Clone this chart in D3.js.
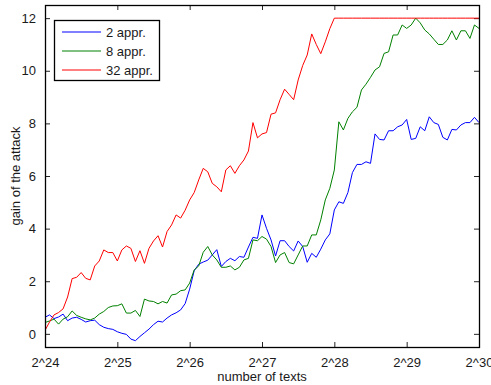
<!DOCTYPE html>
<html>
<head>
<meta charset="utf-8">
<script src="https://cdn.jsdelivr.net/npm/d3@7"></script>
<style>
  html, body { margin: 0; padding: 0; background: #fff; }
  svg { display: block; font-family: "Liberation Sans", Arial, Helvetica, sans-serif; }
</style>
</head>
<body>
<svg id="chart" width="491" height="385"></svg>
<script>
// Number of texts is sampled at 16 points per doubling, from 2^24 to 2^30.
const stepsPerDoubling = 16;
const startExp = 24;

const seriesNames = ["2 appr.", "8 appr.", "32 appr."];
const seriesColors = ["#0000ff", "#008000", "#ff0000"];

const gain2 = [
  0.63, 0.72, 0.58, 0.64, 0.75, 0.50, 0.60, 0.63, 0.55, 0.45,
  0.50, 0.52, 0.35, 0.25, 0.20, 0.17, 0.08, 0.02, -0.02, -0.20,
  -0.26, -0.10, 0.04, 0.18, 0.35, 0.48, 0.45, 0.60, 0.72, 0.80,
  0.91, 1.15, 1.70, 2.40, 2.65, 2.73, 2.80, 3.00, 3.20, 2.56,
  2.75, 2.87, 2.78, 2.94, 2.91, 3.30, 3.67, 3.63, 4.52, 4.01,
  3.57, 2.96, 3.54, 3.54, 3.32, 3.15, 3.53, 3.32, 2.72, 3.06,
  2.91, 3.22, 3.57, 3.80, 4.71, 5.02, 4.96, 5.37, 6.13, 6.44,
  6.44, 6.54, 6.48, 7.60, 7.39, 7.37, 7.72, 7.72, 7.87, 7.94,
  8.15, 7.39, 7.43, 7.87, 7.72, 8.25, 8.03, 7.96, 7.47, 7.37,
  7.77, 7.75, 7.94, 8.03, 8.03, 8.23, 8.03
];

const gain8 = [
  0.43, 0.49, 0.56, 0.37, 0.56, 0.65, 0.87, 0.70, 0.63, 0.57,
  0.53, 0.60, 0.75, 0.85, 1.00, 1.06, 1.07, 1.14, 0.79, 0.79,
  0.89, 0.66, 1.32, 1.25, 1.23, 1.14, 1.23, 1.17, 1.48, 1.51,
  1.64, 1.67, 1.93, 2.43, 2.58, 3.10, 3.32, 3.00, 2.81, 2.53,
  2.53, 2.58, 2.43, 2.53, 2.81, 2.87, 3.57, 3.54, 3.70, 3.60,
  3.32, 2.71, 3.00, 3.09, 2.71, 2.66, 3.00, 3.34, 3.34, 3.76,
  3.76, 4.33, 5.09, 5.53, 6.23, 8.06, 7.75, 8.19, 8.44, 8.61,
  9.27, 9.49, 9.75, 10.03, 10.15, 10.66, 10.72, 11.36, 11.36, 11.74,
  11.61, 11.74, 12.00, 11.82, 11.55, 11.40, 11.20, 11.00, 11.00, 11.17,
  11.52, 11.17, 11.52, 11.52, 11.23, 11.74, 11.61
];

const gain32 = [
  0.13, 0.45, 0.72, 0.81, 0.95, 1.40, 2.10, 2.15, 2.33, 2.11,
  2.05, 2.58, 2.77, 3.19, 3.09, 3.09, 2.77, 3.19, 3.34, 3.25,
  2.75, 3.16, 2.68, 3.25, 3.53, 3.73, 3.30, 3.89, 4.14, 4.52,
  4.40, 4.70, 5.09, 5.37, 5.85, 6.29, 6.16, 5.72, 5.59, 5.40,
  6.23, 6.39, 6.10, 6.39, 6.61, 6.95, 8.03, 7.45, 7.60, 7.65,
  8.35, 8.40, 8.90, 9.30, 9.10, 8.90, 9.65, 10.20, 10.60, 11.40,
  11.00, 10.65, 11.10, 11.60, 12.00, 12.00, 12.00, 12.00, 12.00, 12.00,
  12.00, 12.00, 12.00, 12.00, 12.00, 12.00, 12.00, 12.00, 12.00, 12.00,
  12.00, 12.00, 12.00, 12.00, 12.00, 12.00, 12.00, 12.00, 12.00, 12.00,
  12.00, 12.00, 12.00, 12.00, 12.00, 12.00, 12.00
];

const xTickExps = [24, 25, 26, 27, 28, 29, 30];
const xTickLabels = ["2^24", "2^25", "2^26", "2^27", "2^28", "2^29", "2^30"];
const yTicks = [0, 2, 4, 6, 8, 10, 12];

const xLabel = "number of texts";
const yLabel = "gain of the attack";

const series = [gain2, gain8, gain32];

// Plot box
const plot = { left: 45, right: 479, top: 5, bottom: 347 };
const svg = d3.select("#chart");
const textColor = "#1a1a1a";

const x = d3.scaleLog().base(2)
  .domain([Math.pow(2, 24), Math.pow(2, 30)])
  .range([plot.left, plot.right]);
const y = d3.scaleLinear()
  .domain([-0.5, 12.5])
  .range([plot.bottom, plot.top]);

const xTickValues = xTickExps.map(e => Math.pow(2, e));
const tickLen = 5;

// Axes with inward ticks on all four sides
const bottomAxis = d3.axisBottom(x).tickValues(xTickValues)
  .tickFormat((d, i) => xTickLabels[i]).tickSizeInner(-tickLen).tickSizeOuter(0).tickPadding(11);
const topAxis = d3.axisTop(x).tickValues(xTickValues)
  .tickFormat("").tickSizeInner(-tickLen).tickSizeOuter(0);
const leftAxis = d3.axisLeft(y).tickValues(yTicks)
  .tickSizeInner(-tickLen).tickSizeOuter(0).tickPadding(9);
const rightAxis = d3.axisRight(y).tickValues(yTicks)
  .tickFormat("").tickSizeInner(-tickLen).tickSizeOuter(0);

function styleAxis(g) {
  g.select(".domain").remove();
  g.selectAll(".tick line").attr("stroke", "#262626").attr("stroke-width", 1);
  g.selectAll(".tick text").attr("fill", textColor).style("font-size", "13px")
    .style("font-family", '"Liberation Sans", Arial, sans-serif');
}

svg.append("g").attr("transform", `translate(0,${plot.bottom})`).call(bottomAxis).call(styleAxis);
svg.append("g").attr("transform", `translate(0,${plot.top})`).call(topAxis).call(styleAxis);
svg.append("g").attr("transform", `translate(${plot.left},0)`).call(leftAxis).call(styleAxis);
svg.append("g").attr("transform", `translate(${plot.right},0)`).call(rightAxis).call(styleAxis);

// Data lines
const line = d3.line()
  .x((d, i) => x(Math.pow(2, startExp + i / stepsPerDoubling)))
  .y(d => y(d));

const clip = svg.append("clipPath").attr("id", "plotclip")
  .append("rect").attr("x", plot.left).attr("y", plot.top)
  .attr("width", plot.right - plot.left).attr("height", plot.bottom - plot.top);

series.forEach((vals, k) => {
  svg.append("path")
    .datum(vals)
    .attr("fill", "none")
    .attr("stroke", seriesColors[k])
    .attr("stroke-width", 1)
    .attr("stroke-linejoin", "round")
    .attr("clip-path", "url(#plotclip)")
    .attr("d", line);
});

// Plot frame
svg.append("rect")
  .attr("x", plot.left + 0.5).attr("y", plot.top + 0.5)
  .attr("width", plot.right - plot.left).attr("height", plot.bottom - plot.top)
  .attr("fill", "none").attr("stroke", "#000").attr("stroke-width", 1.3);

// Axis titles
svg.append("text")
  .attr("x", (plot.left + plot.right) / 2).attr("y", 381)
  .attr("text-anchor", "middle").attr("fill", textColor)
  .style("font-size", "13px").text(xLabel);

svg.append("text")
  .attr("transform", `translate(20,${(plot.top + plot.bottom) / 2}) rotate(-90)`)
  .attr("text-anchor", "middle").attr("fill", textColor)
  .style("font-size", "13px").text(yLabel);

// Legend
const legend = svg.append("g").attr("transform", "translate(54,20)");
legend.append("rect")
  .attr("x", 0.5).attr("y", 0.5).attr("width", 105).attr("height", 60)
  .attr("fill", "#fff").attr("stroke", "#000").attr("stroke-width", 1.3);

seriesNames.forEach((name, k) => {
  const rowY = 12 + k * 19;
  legend.append("line")
    .attr("x1", 8).attr("x2", 47).attr("y1", rowY).attr("y2", rowY)
    .attr("stroke", seriesColors[k]).attr("stroke-width", 1);
  legend.append("text")
    .attr("x", 52).attr("y", rowY).attr("dy", "0.35em")
    .attr("fill", textColor).style("font-size", "13px").text(name);
});
</script>
</body>
</html>
